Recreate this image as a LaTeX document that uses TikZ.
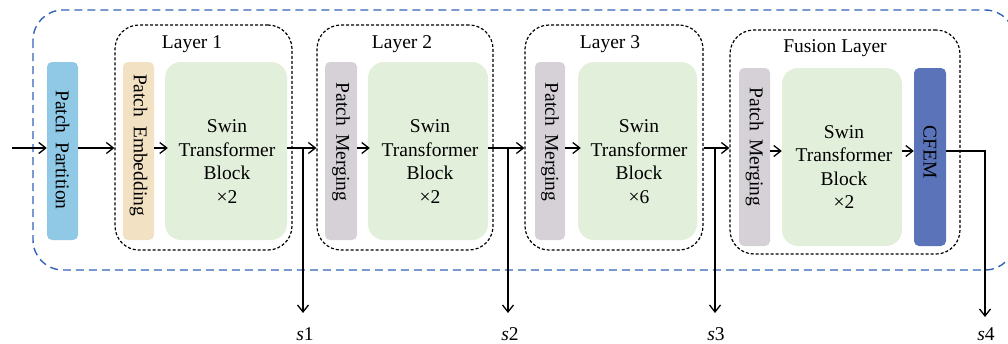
\documentclass[tikz,border=0pt]{standalone}
\usepackage{fontspec}
\setmainfont{Liberation Serif}
\usetikzlibrary{arrows.meta}
\definecolor{ppblue}{HTML}{8FC9E6}
\definecolor{pebeige}{HTML}{F2E1C3}
\definecolor{pmgray}{HTML}{D5D1D7}
\definecolor{swgreen}{HTML}{E2EFDA}
\definecolor{cfemblue}{HTML}{5B73B9}
\definecolor{outerblue}{HTML}{3462B8}
\tikzset{
  txt/.style={font=\fontsize{19.5}{23.5}\selectfont, inner sep=0pt},
  slab/.style={rectangle, rounded corners=5pt, minimum width=#1, minimum height=178pt, inner sep=0pt},
  swbox/.style={rectangle, rounded corners=16pt, fill=swgreen, minimum height=178pt, minimum width=#1, inner sep=0pt},
  layerbox/.style={rectangle, draw=black, line width=1.2pt, dash pattern=on 3pt off 2pt, rounded corners=24pt, inner sep=0pt},
  vtxt/.style={txt, rotate=-90},
  arr/.style={line width=1.4pt, -{Straight Barb[length=7pt,width=11pt,line width=1.3pt]}},
}
\begin{document}
\begin{tikzpicture}[x=1pt,y=-1pt]
\useasboundingbox (0,0) rectangle (1008,343);

% outer dashed frame
\draw[outerblue, line width=1.4pt, dash pattern=on 8pt off 5pt, rounded corners=30pt] (33,10) rectangle (1015,270);

% layer frames
\node[layerbox, minimum width=177pt, minimum height=225pt] (L1) at (203.5,137.5) {};
\node[layerbox, minimum width=176pt, minimum height=225pt] (L2) at (405,137.5) {};
\node[layerbox, minimum width=178pt, minimum height=225pt] (L3) at (614,137.5) {};
\node[layerbox, minimum width=230pt, minimum height=224pt] (L4) at (845,142) {};

\node[txt] (L1t) at (192,44) {Layer 1};
\node[txt] (L2t) at (402,44) {Layer 2};
\node[txt] (L3t) at (610,44) {Layer 3};
\node[txt] (L4t) at (835,48) {Fusion Layer};

% Patch partition
\node[slab=31pt, fill=ppblue] (pp) at (62.5,151) {};
\node[vtxt] (ppt) at (62.5,150) {Patch\hspace{0.45em}Partition};

% Layer 1
\node[slab=31pt, fill=pebeige] (pe) at (138.5,151) {};
\node[vtxt] (pet) at (138.5,145) {Patch\hspace{0.45em}Embedding};
\node[swbox=122pt] (sw1) at (226,151) {};
\node[txt, align=center] (sw1t) at (227,161.5) {Swin\\Transformer\\Block\\×2};

% Layer 2
\node[slab=32pt, fill=pmgray] (pm2) at (341,151) {};
\node[vtxt] (pm2t) at (341,142) {Patch\hspace{0.45em}Merging};
\node[swbox=120pt] (sw2) at (428,151) {};
\node[txt, align=center] (sw2t) at (430,161.5) {Swin\\Transformer\\Block\\×2};

% Layer 3
\node[slab=30pt, fill=pmgray] (pm3) at (550,151) {};
\node[vtxt] (pm3t) at (550,142) {Patch\hspace{0.45em}Merging};
\node[swbox=119pt] (sw3) at (637.5,151) {};
\node[txt, align=center] (sw3t) at (639,161.5) {Swin\\Transformer\\Block\\×6};

% Fusion layer
\node[slab=31pt, fill=pmgray] (pm4) at (754.5,157) {};
\node[vtxt] (pm4t) at (754.5,147) {Patch\hspace{0.45em}Merging};
\node[swbox=120pt] (sw4) at (842,157) {};
\node[txt, align=center] (sw4t) at (844,167) {Swin\\Transformer\\Block\\×2};
\node[slab=32pt, fill=cfemblue] (cf) at (930,157) {};
\node[vtxt] (cft) at (930,152) {CFEM};

% rows of the data flow
\coordinate (r) at (0,148);
\coordinate (rf) at (0,151);
\coordinate (in) at (12,148);

\draw[arr] (in) -- (pp.west |- r);
\draw[arr] (pp.east |- r) -- (L1.west |- r);
\draw[arr] (pe.east |- r) -- ([xshift=3pt]sw1.west |- r);
\draw[arr] (sw1.east |- r) -- (L2.west |- r);
\draw[arr] (pm2.east |- r) -- ([xshift=2pt]sw2.west |- r);
\draw[arr] (sw2.east |- r) -- (L3.west |- r);
\draw[arr] (pm3.east |- r) -- ([xshift=3pt]sw3.west |- r);
\draw[arr] (L3.east |- r) -- (L4.west |- r);
\draw[arr] (pm4.east |- rf) -- (sw4.west |- rf);
\draw[arr] (sw4.east |- rf) -- (cf.west |- rf);

% stage outputs
\coordinate (b1) at (303,148);
\coordinate (b2) at (508,148);
\coordinate (b3) at (715,148);
\coordinate (b4) at (985,151);
\coordinate (e1) at (303,313);
\coordinate (e2) at (508,313);
\coordinate (e3) at (715,313);
\coordinate (e4) at (985,317);
\draw[arr] (b1) -- (e1);
\draw[arr] (b2) -- (e2);
\draw[arr] (b3) -- (e3);
\draw[arr] (cf.east |- rf) -- (b4) -- (e4);

\node[txt] (s1) at (305,334) {\textit{s}1};
\node[txt] (s2) at (510,334) {\textit{s}2};
\node[txt] (s3) at (716,334) {\textit{s}3};
\node[txt] (s4) at (986,334) {\textit{s}4};
\end{tikzpicture}
\end{document}
